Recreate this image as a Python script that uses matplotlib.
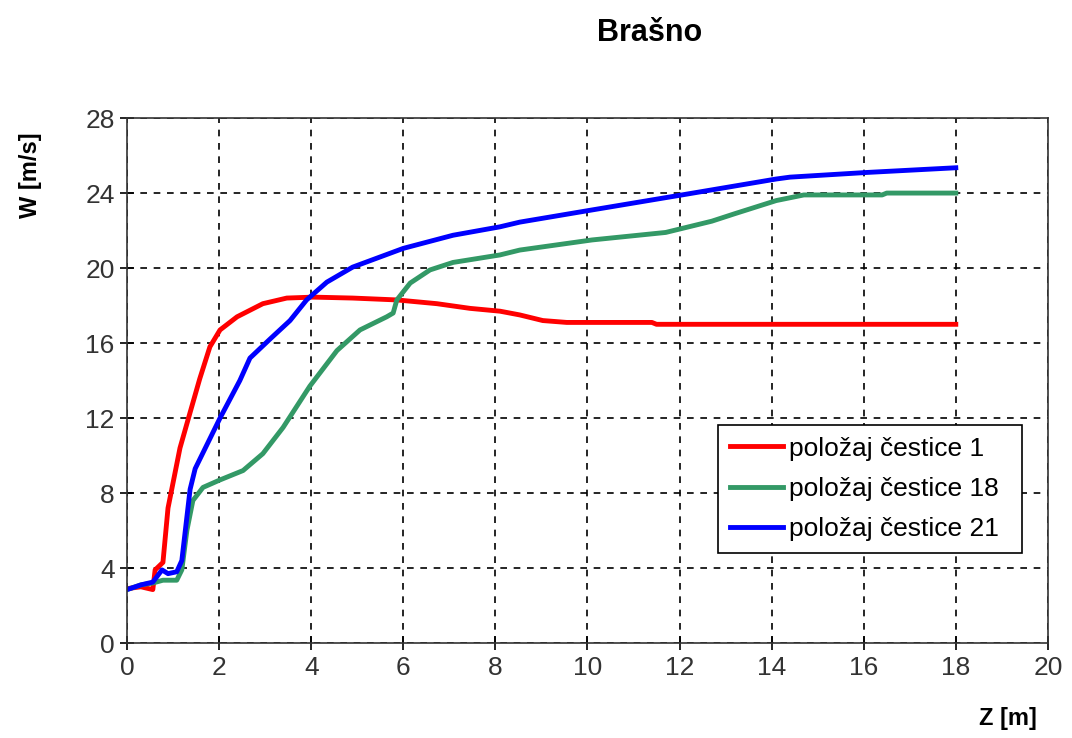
import matplotlib
matplotlib.use("Agg")
import matplotlib.pyplot as plt

plt.rcParams['font.family'] = ['Liberation Sans', 'DejaVu Sans']

# Brzina čestice W duž cijevi Z za tri položaja čestice
red_z = [0, 0.3, 0.56, 0.61, 0.78, 0.89, 1.15, 1.37, 1.58, 1.80, 2.02, 2.39, 2.95,
         3.47, 4.04, 4.9, 5.86, 6.73, 7.45, 8.1, 8.53, 9.03, 9.55, 11.4, 11.5, 18.0]
red_w = [2.9, 3.0, 2.85, 3.9, 4.3, 7.2, 10.4, 12.3, 14.1, 15.8, 16.7, 17.4, 18.1,
         18.4, 18.45, 18.4, 18.3, 18.1, 17.85, 17.7, 17.5, 17.2, 17.1, 17.1, 17.0, 17.0]

green_z = [0, 0.3, 0.56, 0.78, 1.08, 1.19, 1.3, 1.43, 1.65, 2.02, 2.52, 2.95, 3.39,
           3.97, 4.56, 5.06, 5.64, 5.78, 5.86, 6.15, 6.58, 7.08, 8.1, 8.53, 10.1,
           11.7, 12.7, 13.2, 14.1, 14.7, 16.4, 16.5, 18.0]
green_w = [2.85, 3.1, 3.2, 3.35, 3.35, 3.9, 6.0, 7.6, 8.3, 8.7, 9.2, 10.1, 11.5,
           13.7, 15.6, 16.7, 17.4, 17.6, 18.3, 19.2, 19.9, 20.3, 20.7, 20.96, 21.5,
           21.9, 22.5, 22.9, 23.6, 23.9, 23.9, 24.0, 24.0]

blue_z = [0, 0.3, 0.56, 0.76, 0.89, 1.08, 1.19, 1.37, 1.48, 1.58, 2.02, 2.45, 2.67,
          3.1, 3.54, 3.9, 4.34, 4.9, 6.0, 7.08, 8.1, 8.53, 10.1, 12.05, 14.1, 14.4,
          16.07, 18.0]
blue_w = [2.85, 3.1, 3.25, 3.9, 3.7, 3.8, 4.4, 8.2, 9.3, 9.8, 12.0, 14.0, 15.2,
          16.2, 17.2, 18.3, 19.25, 20.05, 21.05, 21.75, 22.2, 22.45, 23.1, 23.9,
          24.75, 24.85, 25.1, 25.35]

labels = ["položaj čestice 1", "položaj čestice 18", "položaj čestice 21"]
x_ticks = list(range(0, 21, 2))
y_ticks = list(range(0, 29, 4))

fig = plt.figure(figsize=(10.72, 7.38), dpi=100)
ax = fig.add_axes([0.1185, 0.1287, 0.859, 0.7113])

ax.plot(red_z, red_w, color='#ff0000', lw=3.5, label=labels[0])
ax.plot(green_z, green_w, color='#339966', lw=3.5, label=labels[1])
ax.plot(blue_z, blue_w, color='#0000ff', lw=3.5, label=labels[2])

ax.set_xlim(0, 20)
ax.set_ylim(0, 28)
ax.set_xticks(x_ticks)
ax.set_yticks(y_ticks)
ax.tick_params(direction='inout', length=10, width=1.2, labelsize=19, pad=4,
               labelcolor='#333333')
ax.grid(True, color='black', linestyle=(0, (4, 4)), linewidth=1.2)
for s in ax.spines.values():
    s.set_linewidth(1.2)
    s.set_color('#333333')

leg = ax.legend(loc='lower left', bbox_to_anchor=(0.642, 0.171, 0.33, 0.248),
                mode='expand', fontsize=19, frameon=True, fancybox=False,
                handlelength=2.0, handletextpad=0.25, borderpad=0.45,
                labelspacing=0.62, borderaxespad=0)
leg.get_frame().set_edgecolor('black')
leg.get_frame().set_linewidth(1.2)
leg.get_frame().set_alpha(1)

fig.text(650 / 1072, 1 - 33 / 738, "Brašno", ha='center', va='center',
         fontsize=22, fontweight='bold')
fig.text(30 / 1072, 1 - 175 / 738, "W [m/s]", ha='center', va='center',
         rotation=90, fontsize=17, fontweight='bold')
fig.text(1008 / 1072, 1 - 718 / 738, "Z [m]", ha='center', va='center',
         fontsize=17, fontweight='bold')

fig.savefig("out.png", dpi=100)
